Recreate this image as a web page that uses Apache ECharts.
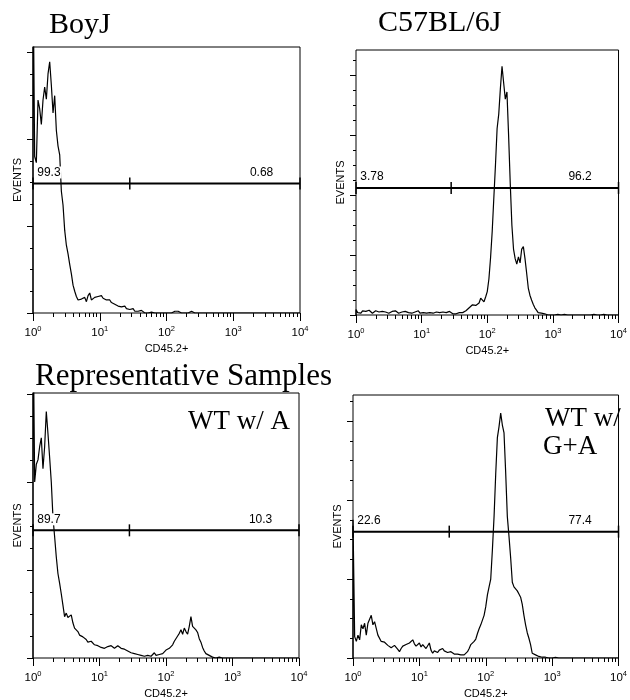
<!DOCTYPE html>
<html lang="en">
<head>
<meta charset="UTF-8">
<script src="https://cdn.jsdelivr.net/npm/echarts@6/dist/echarts.min.js"></script>
<style>
  html, body { margin: 0; padding: 0; background: #fff; }
  #chart { width: 630px; height: 700px; }
</style>
</head>
<body>
<div id="chart"></div>
<script>
// histogram bins are 0.025 decades wide, from 10^0 to 10^4
var binStep = 0.025;
var decadeLabels = ['0', '1', '2', '3', '4'];

var boyjCounts = [
  400, 180, 173, 245, 235, 217, 245, 260, 246, 275,
  289, 262, 230, 250, 210, 192, 182, 140, 124, 95,
  78, 68, 56, 45, 32, 25, 19, 15, 13, 16,
  15, 18, 13, 20, 23, 15, 17, 18, 17, 19,
  18, 20, 17, 16, 15, 14, 15, 12, 13, 10,
  11, 8, 9, 7, 6, 8, 5, 6, 4, 3,
  5, 2, 3, 2, 1, 3, 1, 0, 1, 0,
  0, 1, 0, 0, 1, 0, 0, 0, 0, 0,
  0, 0, 0, 0, 1, 2, 1, 2, 1, 0,
  0, 0, 0, 0, 0, 2, 0, 0, 0, 0,
  0, 0, 0, 0, 0, 0, 0, 0, 0, 0,
  0, 0, 0, 0, 0, 0, 0, 0, 0, 0,
  0, 0, 0, 0, 0, 0, 0, 0, 0, 0,
  0, 0, 0, 0, 0, 0, 0, 0, 0, 0,
  0, 0, 0, 0, 0, 0, 0, 0, 0, 0,
  0, 0, 0, 0, 0, 0, 0, 0, 0, 0, 0
];
var c57Counts = [
  9, 4, 6, 3, 7, 5, 6, 4, 8, 5,
  3, 6, 7, 4, 5, 8, 6, 4, 5, 7,
  3, 5, 6, 4, 7, 5, 3, 6, 5, 4,
  6, 7, 4, 5, 3, 6, 5, 4, 7, 3,
  5, 4, 6, 3, 5, 4, 6, 3, 4, 5,
  2, 4, 3, 5, 2, 4, 3, 6, 4, 2,
  3, 2, 3, 4, 5, 4, 6, 7, 9, 12,
  14, 17, 19, 16, 14, 20, 28, 25, 22, 30,
  39, 60, 95, 139, 195, 250, 311, 335, 378, 415,
  387, 360, 372, 300, 220, 150, 110, 94, 85, 97,
  87, 110, 114, 94, 70, 45, 33, 25, 18, 12,
  8, 4, 2, 3, 1, 2, 1, 0, 1, 0,
  1, 0, 0, 1, 0, 0, 0, 1, 0, 0,
  0, 0, 1, 0, 0, 0, 0, 0, 1, 0,
  0, 0, 0, 0, 0, 1, 0, 0, 0, 0,
  0, 1, 0, 0, 0, 0, 1, 0, 0, 0, 0
];
var wtACounts = [
  400, 200, 220, 225, 240, 250, 215, 240, 280, 255,
  228, 200, 160, 138, 115, 96, 85, 73, 60, 47,
  51, 46, 44, 49, 40, 34, 36, 30, 26, 28,
  24, 22, 21, 18, 16, 19, 17, 15, 16, 14,
  13, 12, 14, 11, 12, 13, 15, 14, 12, 11,
  13, 14, 15, 11, 9, 10, 8, 8, 7, 6,
  7, 5, 6, 4, 5, 3, 5, 2, 4, 3,
  5, 2, 4, 6, 3, 5, 4, 6, 5, 7,
  9, 8, 11, 13, 15, 19, 21, 25, 28, 32,
  27, 34, 30, 27, 36, 47, 36, 34, 32, 29,
  22, 18, 12, 8, 5, 4, 3, 2, 1, 1,
  0, 0, 1, 0, 0, 0, 0, 0, 0, 0,
  0, 0, 0, 0, 0, 0, 0, 0, 0, 0,
  0, 0, 0, 0, 0, 0, 0, 0, 0, 0,
  0, 0, 0, 0, 0, 0, 0, 0, 0, 0,
  0, 0, 0, 0, 0, 0, 0, 0, 0, 0, 0
];
var wtGACounts = [
  175, 27, 21, 29, 23, 42, 37, 44, 29, 44,
  46, 54, 42, 46, 44, 29, 27, 21, 23, 20,
  19, 16, 17, 13, 14, 16, 17, 11, 8, 12,
  15, 13, 17, 15, 19, 21, 23, 18, 15, 17,
  19, 14, 17, 15, 12, 14, 19, 10, 6, 9,
  8, 7, 10, 9, 12, 9, 8, 7, 6, 8,
  6, 5, 7, 5, 5, 4, 6, 4, 6, 8,
  12, 17, 15, 21, 24, 31, 37, 42, 48, 54,
  65, 80, 90, 100, 137, 179, 233, 279, 293, 310,
  295, 285, 235, 179, 154, 127, 96, 90, 88, 85,
  81, 77, 68, 54, 42, 32, 25, 17, 6, 5,
  4, 3, 2, 3, 1, 2, 1, 1, 0, 1,
  0, 0, 1, 0, 0, 0, 0, 0, 0, 0,
  0, 0, 0, 0, 0, 0, 0, 0, 0, 0,
  0, 0, 0, 0, 0, 0, 0, 0, 0, 0,
  0, 0, 0, 0, 0, 0, 0, 0, 0, 0, 0
];

var panelCounts = [boyjCounts, c57Counts, wtACounts, wtGACounts];
var yMax = [306, 442, 301, 333];
var gateLevels = [149, 212, 145, 160];
var gateSplit = 1.45;
var gateLeftText = ['99.3', '3.78', '89.7', '22.6'];
var gateRightText = ['0.68', '96.2', '10.3', '77.4'];

var grids = [
  { left: 33, top: 47, width: 267, height: 266 },
  { left: 356, top: 50, width: 266, height: 265 },
  { left: 33, top: 393, width: 266, height: 265 },
  { left: 353, top: 395, width: 267, height: 265 }
];

var sans = 'Liberation Sans';
var serif = 'Liberation Serif';

// minor log ticks 2..9 in each decade
var minorX = [];
for (var d = 0; d < 4; d++) {
  for (var k = 2; k < 10; k++) minorX.push(d + Math.log10(k));
}
function yTicks(max, major) {
  var out = [];
  for (var v = 0; v <= max; v += 25) {
    if ((v % 100 === 0) === major) out.push(v);
  }
  return out;
}

var xAxes = [], yAxes = [], series = [];
grids.forEach(function (g, p) {
  xAxes.push({
    gridIndex: p, type: 'value', min: 0, max: 4, interval: 1, position: 'bottom',
    axisLine: { show: false }, splitLine: { show: false },
    axisTick: { length: 8, lineStyle: { color: '#000', width: 1 } },
    axisLabel: {
      margin: 12,
      formatter: function (v) { return '{b|10}{s|' + decadeLabels[Math.round(v)] + '}'; },
      rich: {
        b: { fontSize: 11.5, fontFamily: sans, color: '#000', lineHeight: 16 },
        s: { fontSize: 7.5, fontFamily: sans, color: '#000', lineHeight: 6, verticalAlign: 'top' }
      }
    },
    name: 'CD45.2+', nameLocation: 'middle', nameGap: 30,
    nameTextStyle: { fontSize: 11, fontFamily: sans, color: '#000' }
  });
  xAxes.push({
    gridIndex: p, type: 'value', min: 0, max: 4, position: 'bottom', offset: 0,
    axisLine: { show: false }, splitLine: { show: false }, axisLabel: { show: false },
    axisTick: { customValues: minorX, length: 4, lineStyle: { color: '#000', width: 1 } }
  });
  yAxes.push({
    gridIndex: p, type: 'value', min: 0, max: yMax[p], position: 'left',
    axisLine: { show: false }, splitLine: { show: false }, axisLabel: { show: false },
    axisTick: { customValues: yTicks(yMax[p], true), length: 6, lineStyle: { color: '#000', width: 1 } },
    name: 'EVENTS', nameLocation: 'middle', nameGap: 10,
    nameTextStyle: { fontSize: 11, fontFamily: sans, color: '#000' }
  });
  yAxes.push({
    gridIndex: p, type: 'value', min: 0, max: yMax[p], position: 'left', offset: 0,
    axisLine: { show: false }, splitLine: { show: false }, axisLabel: { show: false },
    axisTick: { customValues: yTicks(yMax[p], false), length: 3, lineStyle: { color: '#000', width: 1 } }
  });

  var pts = [[0, 0]];
  panelCounts[p].forEach(function (v, i) { pts.push([i * binStep, v]); });
  series.push({
    type: 'line', xAxisIndex: 2 * p, yAxisIndex: 2 * p,
    data: pts, symbol: 'none', silent: true,
    lineStyle: { color: '#000', width: 1.2 }
  });

  var gy = gateLevels[p];
  var lblStyle = {
    show: true, color: '#000', fontSize: 12, fontFamily: sans,
    backgroundColor: '#fff', padding: [0, 1]
  };
  series.push({
    type: 'line', xAxisIndex: 2 * p, yAxisIndex: 2 * p, z: 3, clip: false, silent: true,
    symbol: 'rect', symbolSize: [1.5, 12], showAllSymbol: true,
    itemStyle: { color: '#000' },
    lineStyle: { color: '#000', width: 2 },
    data: [
      { value: [0, gy], label: Object.assign({}, lblStyle, { formatter: gateLeftText[p], position: [4, -11] }) },
      { value: [gateSplit, gy] },
      { value: [4, gy], label: Object.assign({}, lblStyle, { formatter: gateRightText[p], position: [-25, -11], align: 'right' }) }
    ]
  });
});

var titleStyle = { fontFamily: serif, fontSize: 30, fontWeight: 'normal', color: '#000' };
var innerStyle = { fontFamily: serif, fontSize: 27, fontWeight: 'normal', color: '#000' };

var chart = echarts.init(document.getElementById('chart'));
chart.setOption({
  animation: false,
  backgroundColor: '#fff',
  title: [
    { text: 'BoyJ', left: 49, top: 10, padding: 0, textStyle: titleStyle },
    { text: 'C57BL/6J', left: 378, top: 8, padding: 0, textStyle: titleStyle },
    { text: 'Representative Samples', left: 35, top: 361, padding: 0,
      textStyle: Object.assign({}, titleStyle, { fontSize: 31 }) },
    { text: 'WT w/ A', left: 188, top: 408, padding: 0, textStyle: innerStyle },
    { text: 'WT w/', left: 545, top: 405, padding: 0, textStyle: innerStyle },
    { text: 'G+A', left: 543, top: 433, padding: 0, textStyle: innerStyle }
  ],
  grid: grids.map(function (g) {
    return Object.assign({ show: true, borderColor: '#000', borderWidth: 1, backgroundColor: 'transparent' }, g);
  }),
  xAxis: xAxes,
  yAxis: yAxes,
  series: series
});
</script>
</body>
</html>
